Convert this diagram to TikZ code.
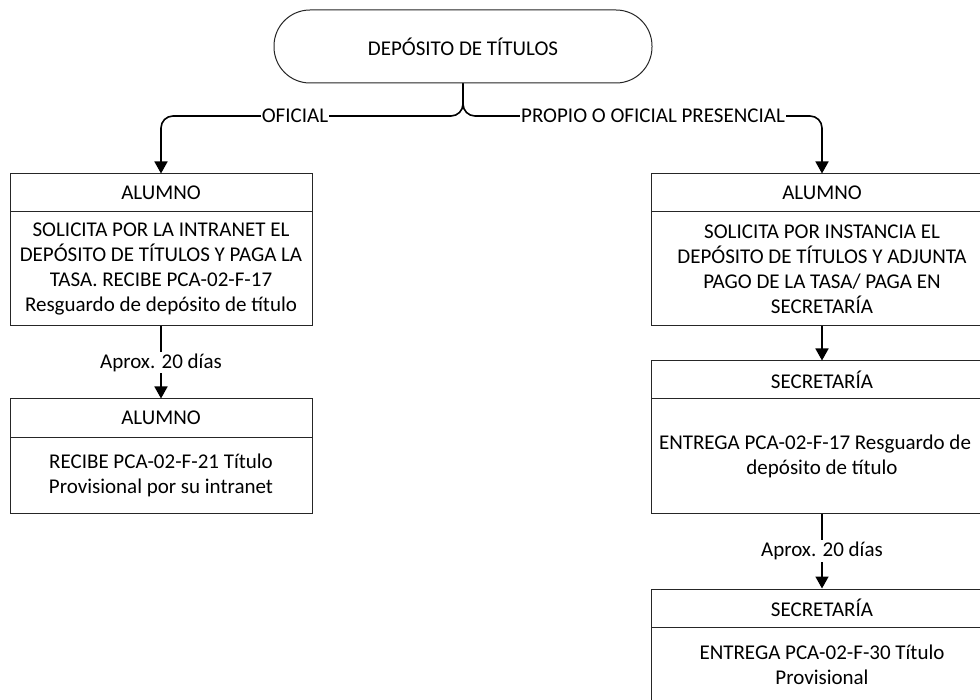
\documentclass[tikz,border=0pt]{standalone}
\usepackage{fontspec}
\setmainfont{Carlito}
\usetikzlibrary{arrows.meta}
\begin{document}
\begin{tikzpicture}[x=1pt,y=-1pt,
  txt/.style={font=\fontsize{21}{25}\selectfont},
  box/.style={txt, draw=black!85, line width=1pt, align=center, inner sep=0pt},
  startbox/.style={box, rounded corners=36pt, minimum width=378pt, minimum height=73pt},
  lbox/.style={box, minimum width=302pt},
  rbox/.style={box, minimum width=342pt},
  head/.style={minimum height=38pt},
  flow/.style={line width=1.6pt, -{Triangle[width=13pt,length=12pt]}},
  lbl/.style={txt, fill=white, inner xsep=1pt, inner ysep=2pt}
]
\useasboundingbox (0,0) rectangle (980,700);
\clip (0,0) rectangle (980,700);
\fill[white] (0,0) rectangle (980,700);

% start
\node[startbox] (start) at (463,46.5) {DEPÓSITO DE TÍTULOS};

% left column
\node[lbox, head] (h1) at (161,193) {ALUMNO};
\node[lbox, minimum height=114pt] (b1) at (161,269) {SOLICITA POR LA INTRANET EL\\DEPÓSITO DE TÍTULOS Y PAGA LA\\TASA. RECIBE PCA-02-F-17\\Resguardo de depósito de título};
\node[lbox, head] (h2) at (161,418) {ALUMNO};
\node[lbox, minimum height=76pt] (b2) at (161,475) {RECIBE PCA-02-F-21 Título\\Provisional por su intranet};

% right column
\node[rbox, head] (h3) at (822,193) {ALUMNO};
\node[rbox, minimum height=114pt] (b3) at (822,269) {SOLICITA POR INSTANCIA EL\\DEPÓSITO DE TÍTULOS Y ADJUNTA\\PAGO DE LA TASA/ PAGA EN\\SECRETARÍA};
\node[rbox, head] (h4) at (822,380) {SECRETARÍA};
\node[rbox, minimum height=114pt] (b4) at (822,456) {\hspace*{-14pt}ENTREGA PCA-02-F-17 Resguardo de\\depósito de título};
\node[rbox, head] (h5) at (822,608) {SECRETARÍA};
\node[rbox, minimum height=76pt] (b5) at (822,665) {ENTREGA PCA-02-F-30 Título\\Provisional};

% branch connectors
\coordinate (jl) at (161,116);
\coordinate (jr) at (822,116);
\draw[flow, rounded corners=12pt] (start.south) |- (jl) -- (h1.north);
\draw[flow, rounded corners=12pt] (start.south) |- (jr) -- (h3.north);
\node[lbl] (lofi) at (295,116) {OFICIAL};
\node[lbl] (lprop) at (653,116) {PROPIO O OFICIAL PRESENCIAL};

% vertical flows
\draw[flow] (b1.south) -- node[lbl] (l1) {Aprox. 20 días} (h2.north);
\draw[flow] (b3.south) -- (h4.north);
\draw[flow] (b4.south) -- node[lbl] (l2) {Aprox. 20 días} (h5.north);
\end{tikzpicture}
\end{document}
